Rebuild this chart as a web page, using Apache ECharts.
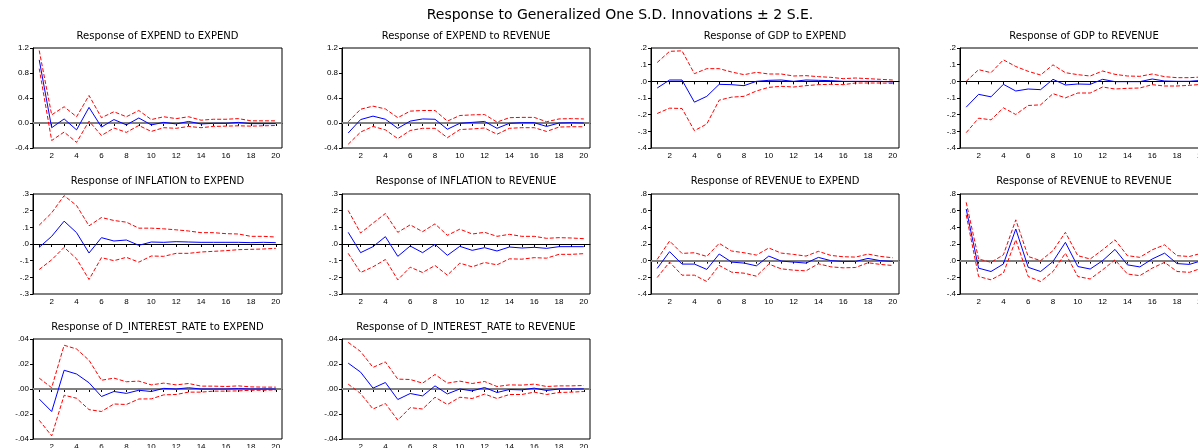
<!DOCTYPE html>
<html>
<head>
<meta charset="utf-8">
<script src="https://cdn.jsdelivr.net/npm/echarts@6/dist/echarts.min.js"></script>
<style>
html,body{margin:0;padding:0;background:#fff;}
#chart{width:1198px;height:448px;}
</style>
</head>
<body>
<div id="chart"></div>
<script>
// ---------- DATA ----------
const periods = ['1','2','3','4','5','6','7','8','9','10','11','12','13','14','15','16','17','18','19','20'];
const mainTitle = 'Response to Generalized One S.D. Innovations \u00b1 2 S.E.';

// Response of EXPEND to EXPEND
const expExpIrf = [1.01,-0.075,0.065,-0.11,0.25,-0.065,0.055,-0.03,0.08,-0.03,0.01,-0.015,0.025,-0.015,-0.005,-0.005,0.01,-0.01,-0.01,-0.01];
const expExpUp  = [1.16,0.13,0.26,0.10,0.44,0.085,0.18,0.10,0.20,0.055,0.10,0.07,0.10,0.045,0.06,0.06,0.07,0.035,0.035,0.035];
const expExpLo  = [0.87,-0.28,-0.145,-0.31,0.03,-0.20,-0.08,-0.15,-0.04,-0.135,-0.075,-0.085,-0.055,-0.075,-0.055,-0.05,-0.045,-0.05,-0.045,-0.04];

// Response of EXPEND to REVENUE
const expRevIrf = [-0.16,0.055,0.11,0.06,-0.085,0.03,0.065,0.06,-0.10,-0.005,0.01,0.025,-0.085,-0.005,0.005,0.005,-0.055,0.0,0.005,0.0];
const expRevUp  = [0.02,0.22,0.27,0.225,0.085,0.19,0.20,0.20,0.03,0.12,0.13,0.135,0.015,0.085,0.09,0.09,0.02,0.065,0.07,0.065];
const expRevLo  = [-0.34,-0.145,-0.055,-0.11,-0.25,-0.12,-0.085,-0.085,-0.235,-0.105,-0.095,-0.08,-0.18,-0.085,-0.075,-0.075,-0.135,-0.065,-0.06,-0.06];

// Response of GDP to EXPEND
const gdpExpIrf = [-0.04,0.008,0.008,-0.125,-0.09,-0.018,-0.02,-0.026,0.0,0.006,0.008,0.0,0.008,0.006,0.004,0.0,0.0,0.0,0.0,-0.004];
const gdpExpUp  = [0.113,0.18,0.183,0.046,0.076,0.076,0.056,0.04,0.054,0.044,0.044,0.032,0.034,0.028,0.024,0.016,0.02,0.016,0.012,0.008];
const gdpExpLo  = [-0.193,-0.161,-0.163,-0.296,-0.256,-0.113,-0.095,-0.09,-0.058,-0.036,-0.03,-0.034,-0.026,-0.02,-0.018,-0.02,-0.01,-0.01,-0.01,-0.012];

// Response of GDP to REVENUE
const gdpRevIrf = [-0.155,-0.078,-0.093,-0.018,-0.058,-0.046,-0.05,0.012,-0.022,-0.016,-0.018,0.012,-0.002,-0.002,-0.002,0.014,0.002,0.0,0.0,0.006];
const gdpRevUp  = [0.0,0.07,0.052,0.129,0.089,0.06,0.038,0.099,0.052,0.04,0.032,0.062,0.042,0.032,0.03,0.044,0.028,0.022,0.022,0.026];
const gdpRevLo  = [-0.308,-0.221,-0.231,-0.159,-0.199,-0.145,-0.141,-0.074,-0.099,-0.07,-0.07,-0.034,-0.046,-0.042,-0.04,-0.02,-0.028,-0.028,-0.024,-0.018];

// Response of INFLATION to EXPEND
const infExpIrf = [-0.02,0.046,0.137,0.068,-0.054,0.038,0.018,0.024,-0.008,0.012,0.01,0.014,0.012,0.01,0.01,0.01,0.01,0.008,0.01,0.008];
const infExpUp  = [0.113,0.187,0.29,0.231,0.109,0.159,0.141,0.131,0.095,0.095,0.091,0.085,0.078,0.068,0.068,0.062,0.06,0.046,0.046,0.042];
const infExpLo  = [-0.153,-0.095,-0.02,-0.089,-0.213,-0.082,-0.10,-0.08,-0.109,-0.072,-0.074,-0.056,-0.056,-0.048,-0.044,-0.04,-0.034,-0.032,-0.03,-0.026];

// Response of INFLATION to REVENUE
const infRevIrf = [0.07,-0.052,-0.016,0.044,-0.074,-0.012,-0.052,-0.002,-0.068,-0.014,-0.038,-0.022,-0.042,-0.018,-0.024,-0.02,-0.026,-0.016,-0.016,-0.016];
const infRevUp  = [0.201,0.066,0.125,0.183,0.07,0.115,0.074,0.121,0.052,0.089,0.06,0.07,0.046,0.058,0.046,0.046,0.034,0.038,0.036,0.032];
const infRevLo  = [-0.056,-0.171,-0.137,-0.093,-0.215,-0.139,-0.171,-0.129,-0.187,-0.115,-0.137,-0.111,-0.125,-0.089,-0.091,-0.082,-0.085,-0.062,-0.062,-0.058];

// Response of REVENUE to EXPEND
const revExpIrf = [-0.093,0.108,-0.041,-0.041,-0.105,0.08,-0.017,-0.029,-0.062,0.055,-0.005,-0.017,-0.029,0.039,0.0,-0.009,-0.009,0.027,0.0,-0.009];
const revExpUp  = [0.015,0.236,0.087,0.095,0.051,0.208,0.116,0.095,0.067,0.152,0.091,0.075,0.055,0.112,0.063,0.047,0.043,0.079,0.051,0.035];
const revExpLo  = [-0.202,-0.017,-0.174,-0.174,-0.25,-0.057,-0.138,-0.15,-0.186,-0.041,-0.098,-0.114,-0.122,-0.037,-0.074,-0.086,-0.082,-0.025,-0.045,-0.058];

// Response of REVENUE to REVENUE
const revRevIrf = [0.62,-0.09,-0.13,-0.04,0.38,-0.08,-0.13,-0.01,0.22,-0.07,-0.10,0.0,0.135,-0.05,-0.075,0.02,0.09,-0.035,-0.045,0.0];
const revRevUp  = [0.70,0.02,-0.02,0.07,0.49,0.05,0.0,0.12,0.34,0.06,0.02,0.13,0.25,0.06,0.04,0.13,0.19,0.06,0.05,0.09];
const revRevLo  = [0.55,-0.19,-0.23,-0.15,0.25,-0.19,-0.25,-0.13,0.09,-0.19,-0.22,-0.11,0.01,-0.16,-0.18,-0.09,-0.02,-0.13,-0.14,-0.09];

// Response of D_INTEREST_RATE to EXPEND
const intExpIrf = [-0.008,-0.018,0.015,0.012,0.005,-0.006,-0.002,-0.0035,-0.001,-0.002,0.0005,0.0,0.001,0.0,0.0,0.0,0.0003,0.0,0.0,0.0];
const intExpUp  = [0.0087,0.001,0.035,0.032,0.023,0.007,0.0087,0.0058,0.0063,0.0033,0.0047,0.0033,0.0044,0.0023,0.0023,0.002,0.0025,0.0017,0.0015,0.0015];
const intExpLo  = [-0.025,-0.0375,-0.005,-0.0074,-0.0165,-0.018,-0.012,-0.0124,-0.008,-0.0079,-0.0047,-0.0044,-0.0025,-0.0025,-0.0017,-0.0017,-0.0015,-0.001,-0.001,-0.0007];

// Response of D_INTEREST_RATE to REVENUE
const intRevIrf = [0.0207,0.0135,0.0007,0.0052,-0.0084,-0.0036,-0.0055,0.0025,-0.0039,0.0,-0.0015,0.0012,-0.0028,-0.0004,-0.0007,0.0007,-0.0012,0.0,0.0,0.0001];
const intRevUp  = [0.0373,0.030,0.0173,0.0217,0.0079,0.0076,0.0047,0.0116,0.0047,0.0063,0.0044,0.006,0.002,0.0033,0.0031,0.0039,0.002,0.0025,0.0025,0.0028];
const intRevLo  = [0.0039,-0.0036,-0.016,-0.0116,-0.0249,-0.0149,-0.016,-0.0066,-0.0124,-0.0066,-0.0076,-0.0041,-0.0076,-0.0044,-0.0044,-0.0025,-0.0044,-0.0028,-0.0025,-0.002];

const panelTitles = [
  'Response of EXPEND to EXPEND','Response of EXPEND to REVENUE',
  'Response of GDP to EXPEND','Response of GDP to REVENUE',
  'Response of INFLATION to EXPEND','Response of INFLATION to REVENUE',
  'Response of REVENUE to EXPEND','Response of REVENUE to REVENUE',
  'Response of D_INTEREST_RATE to EXPEND','Response of D_INTEREST_RATE to REVENUE'
];

// ---------- LAYOUT ----------
const colLeft = [33, 342, 651, 960];
const colWidth = [249, 248, 248, 248];
const rowTop = [48, 194, 339];
const rowHeight = [100, 100, 100];
const titleTop = [31, 176, 322];

const panels = [
  {irf: expExpIrf, up: expExpUp, lo: expExpLo, r:0, c:0, min:-0.4, max:1.2, step:0.4, dec:1, lead:true,  zc:'#808080', zw:2},
  {irf: expRevIrf, up: expRevUp, lo: expRevLo, r:0, c:1, min:-0.4, max:1.2, step:0.4, dec:1, lead:true,  zc:'#808080', zw:2},
  {irf: gdpExpIrf, up: gdpExpUp, lo: gdpExpLo, r:0, c:2, min:-0.4, max:0.2, step:0.1, dec:1, lead:false, zc:'#000', zw:1},
  {irf: gdpRevIrf, up: gdpRevUp, lo: gdpRevLo, r:0, c:3, min:-0.4, max:0.2, step:0.1, dec:1, lead:false, zc:'#000', zw:1},
  {irf: infExpIrf, up: infExpUp, lo: infExpLo, r:1, c:0, min:-0.3, max:0.3, step:0.1, dec:1, lead:false, zc:'#000', zw:1},
  {irf: infRevIrf, up: infRevUp, lo: infRevLo, r:1, c:1, min:-0.3, max:0.3, step:0.1, dec:1, lead:false, zc:'#000', zw:1},
  {irf: revExpIrf, up: revExpUp, lo: revExpLo, r:1, c:2, min:-0.4, max:0.8, step:0.2, dec:1, lead:false, zc:'#808080', zw:2},
  {irf: revRevIrf, up: revRevUp, lo: revRevLo, r:1, c:3, min:-0.4, max:0.8, step:0.2, dec:1, lead:false, zc:'#808080', zw:2},
  {irf: intExpIrf, up: intExpUp, lo: intExpLo, r:2, c:0, min:-0.04, max:0.04, step:0.02, dec:2, lead:false, zc:'#808080', zw:2},
  {irf: intRevIrf, up: intRevUp, lo: intRevLo, r:2, c:1, min:-0.04, max:0.04, step:0.02, dec:2, lead:false, zc:'#808080', zw:2}
];

function fmt(v, dec, lead) {
  let s = (Math.abs(v) < 1e-9 ? 0 : v).toFixed(dec);
  if (!lead) s = s.replace(/^(-?)0\./, '$1.');
  return s;
}

const titles = [{
  text: mainTitle, left: 620, top: 8, textAlign: 'center', padding: 0,
  textStyle: {fontFamily: 'DejaVu Sans', fontSize: 14, fontWeight: 'normal', color: '#000'}
}];
const grids = [], xAxes = [], yAxes = [], series = [];

panels.forEach((p, i) => {
  const left = colLeft[p.c], width = colWidth[p.c];
  titles.push({
    text: panelTitles[i], left: left + width / 2, top: titleTop[p.r], textAlign: 'center', padding: 0,
    textStyle: {fontFamily: 'DejaVu Sans', fontSize: 10, fontWeight: 'normal', color: '#000'}
  });
  grids.push({left: left, top: rowTop[p.r], width: width, height: rowHeight[p.r],
    show: true, borderColor: '#000', borderWidth: 1, backgroundColor: 'transparent',
    containLabel: false, outerBoundsMode: 'none'});
  xAxes.push({
    type: 'category', gridIndex: i, data: periods, boundaryGap: true,
    axisLine: {show: true, lineStyle: {color: '#000', width: 1}},
    axisTick: {show: true, alignWithLabel: true, interval: 0, length: 3, inside: false, lineStyle: {color: '#000'}},
    axisLabel: {interval: (idx) => idx % 2 === 1, fontFamily: 'Liberation Sans', fontSize: 8, color: '#000', margin: 4, hideOverlap: false},
    splitLine: {show: false}
  });
  yAxes.push({
    type: 'value', gridIndex: i, min: p.min, max: p.max, interval: p.step,
    axisLine: {show: true, lineStyle: {color: '#000', width: 1}},
    axisTick: {show: true, length: 3, inside: false, lineStyle: {color: '#000'}},
    axisLabel: {fontFamily: 'Liberation Sans', fontSize: 8, color: '#000', margin: 4,
      formatter: (v) => fmt(v, p.dec, p.lead)},
    splitLine: {show: false}
  });
  series.push({
    type: 'line', xAxisIndex: i, yAxisIndex: i, data: p.up, symbol: 'none', silent: true,
    lineStyle: {color: '#ff0000', width: 1, type: [4, 2]}, z: 3
  });
  series.push({
    type: 'line', xAxisIndex: i, yAxisIndex: i, data: p.lo, symbol: 'none', silent: true,
    lineStyle: {color: '#ff0000', width: 1, type: [4, 2]}, z: 3
  });
  series.push({
    type: 'line', xAxisIndex: i, yAxisIndex: i, data: p.irf, symbol: 'none', silent: true,
    lineStyle: {color: '#0000ff', width: 1}, z: 4,
    markLine: {silent: true, symbol: ['none', 'none'], label: {show: false}, z: 2,
      lineStyle: {color: p.zc, width: p.zw, type: 'solid'}, data: [{yAxis: 0}]}
  });
});

const chart = echarts.init(document.getElementById('chart'), null, {renderer: 'canvas'});
chart.setOption({
  animation: false,
  backgroundColor: '#fff',
  title: titles,
  grid: grids,
  xAxis: xAxes,
  yAxis: yAxes,
  series: series
});
</script>
</body>
</html>
